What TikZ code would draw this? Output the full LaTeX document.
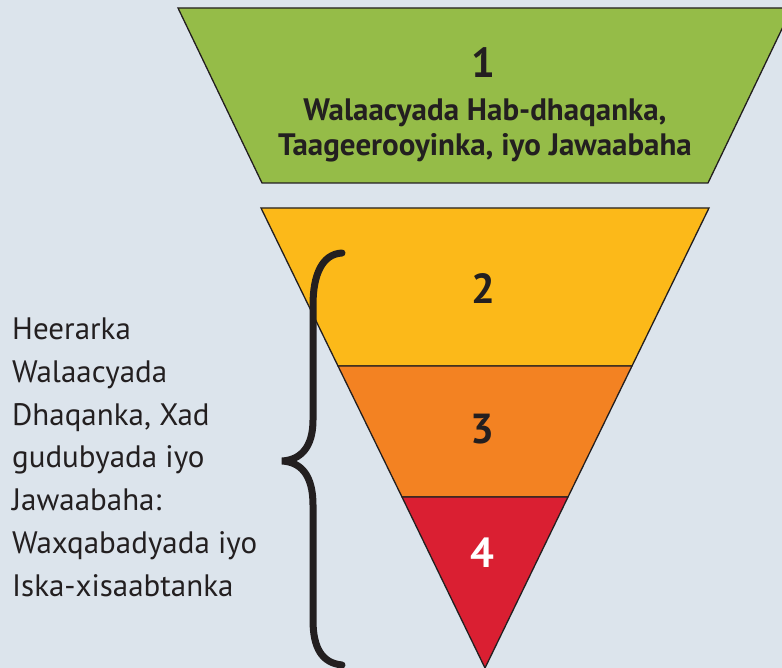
\documentclass[tikz,border=0pt]{standalone}
\usepackage{fontspec}
\setmainfont{PT Sans}
\definecolor{bg}{HTML}{DCE4EC}
\definecolor{ink}{HTML}{231F20}
\definecolor{lvone}{HTML}{95BC48}
\definecolor{lvtwo}{HTML}{FCB919}
\definecolor{lvthree}{HTML}{F38222}
\definecolor{lvfour}{HTML}{DA1F32}
\begin{document}
\begin{tikzpicture}[x=1pt,y=-1pt,
  band/.style={draw=ink, line width=1.3pt, line join=miter},
  num/.style={font=\fontsize{42}{44}\selectfont\bfseries, text=ink, inner sep=0pt, anchor=base},
  title/.style={font=\fontsize{31}{35}\selectfont\bfseries, text=ink, inner sep=0pt, anchor=base},
  side/.style={font=\fontsize{31}{42.7}\selectfont, text=ink, inner sep=0pt, align=left, anchor=base west},
  bracket/.style={draw=ink, line width=7pt, line cap=round}]
\useasboundingbox (0,0) rectangle (782,668);
\fill[bg] (0,0) rectangle (782,668);
% level shapes
\path[band, fill=lvone] (178,8) -- (792,8) -- (708,183) -- (262,183) -- cycle;
\path[band, fill=lvtwo] (261,208) -- (709,208) -- (632,366) -- (338,366) -- cycle;
\path[band, fill=lvthree] (338,366) -- (632,366) -- (568,497) -- (402,497) -- cycle;
\path[band, fill=lvfour] (402,497) -- (568,497) -- (485,668) -- cycle;
% labels
\node[num] (n1) at (483,78) {1};
\node[title] (t1) at (485,121) {Walaacyada Hab-dhaqanka,};
\node[title] (t2) at (485,156) {Taageerooyinka, iyo Jawaabaha};
\node[num] (n2) at (483,304) {2};
\node[num] (n3) at (482,443) {3};
\node[num, text=white] (n4) at (482,567) {4};
% brace
\path[bracket] (342,253) .. controls (322,254) and (313,275) .. (313,305)
  -- (313,420) .. controls (313,448) and (300,460) .. (282,461)
  .. controls (300,462) and (313,474) .. (313,505)
  -- (313,620) .. controls (313,648) and (322,663) .. (342,665);
\node[side] (lbl) at (12,596) {Heerarka\\Walaacyada\\Dhaqanka, Xad\\gudubyada iyo\\Jawaabaha:\\Waxqabadyada iyo\\Iska-xisaabtanka};
\end{tikzpicture}
\end{document}
